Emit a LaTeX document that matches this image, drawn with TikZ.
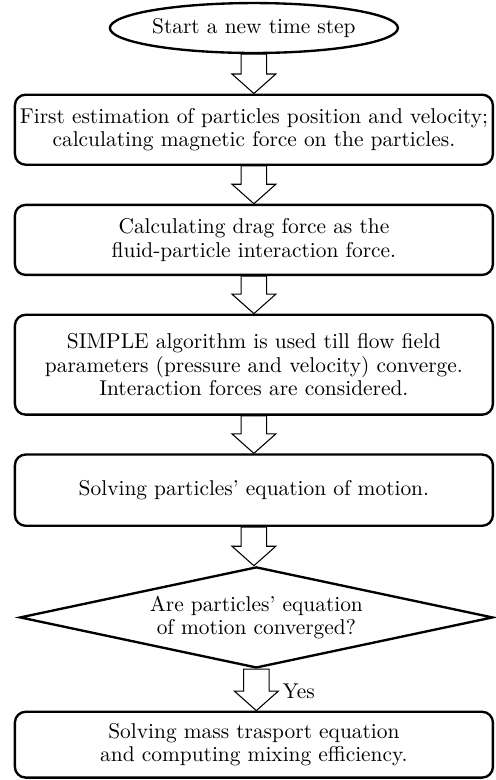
\documentclass[tikz,border=0pt]{standalone}
\usepackage{tikz}
\usetikzlibrary{shapes.geometric, calc}

% hollow block arrow from the bottom of one node to the top of the next
\newcommand{\blockarrow}[2]{%
  \draw[fatarr] let \p1=(#1.south), \p2=(#2.north) in
    ({\x1-0.21cm},\y1) -- ({\x1-0.21cm},{\y2+0.32cm})
    -- ({\x1-0.36cm},{\y2+0.32cm}) -- (\x1,\y2)
    -- ({\x1+0.36cm},{\y2+0.32cm}) -- ({\x1+0.21cm},{\y2+0.32cm})
    -- ({\x1+0.21cm},\y1) -- cycle;}

\begin{document}
\begin{tikzpicture}[
  font=\fontsize{10}{11}\selectfont,
  box/.style={draw, line width=1.1pt, rounded corners=5pt, minimum width=7.85cm,
              inner sep=2pt, align=center},
  startnode/.style={draw, ellipse, line width=1.1pt, minimum width=4.73cm,
              minimum height=0.82cm, inner sep=0pt},
  decision/.style={draw, diamond, line width=1.1pt, aspect=4.68, minimum width=7.77cm,
              minimum height=1.66cm, inner sep=0pt, align=center},
  fatarr/.style={line width=0.5pt, line join=miter},
  lbl/.style={anchor=west, inner sep=1pt}
]
  \useasboundingbox (0,0) rectangle (8.13,-12.81);

  % Start
  \node[startnode] (start) at (4.17,-0.46) {Start a new time step};
  % Steps
  \node[box, minimum height=1.15cm] (est)  at (4.17,-2.13)
        {First estimation of particles position and velocity;\\
         calculating magnetic force on the particles.};
  \node[box, minimum height=1.15cm] (drag) at (4.17,-3.94)
        {Calculating drag force as the\\fluid-particle interaction force.};
  \node[box, minimum height=1.64cm] (simple) at (4.17,-5.99)
        {SIMPLE algorithm is used till flow field\\
         parameters (pressure and velocity) converge.\\
         Interaction forces are considered.};
  \node[box, minimum height=1.17cm] (motion) at (4.17,-8.05)
        {Solving particles' equation of motion.};
  % Decision
  \node[decision] (conv) at (4.21,-10.14)
        {Are particles' equation\\of motion converged?};
  % Last step
  \node[box, minimum height=1.08cm] (mass) at (4.17,-12.23)
        {Solving mass trasport equation\\and computing mixing efficiency.};

  % Block arrows
  \blockarrow{start}{est}
  \blockarrow{est}{drag}
  \blockarrow{drag}{simple}
  \blockarrow{simple}{motion}
  \blockarrow{motion}{conv}
  \blockarrow{conv}{mass}

  \node[lbl] (yes) at (4.6,-11.36) {Yes};

\end{tikzpicture}
\end{document}
